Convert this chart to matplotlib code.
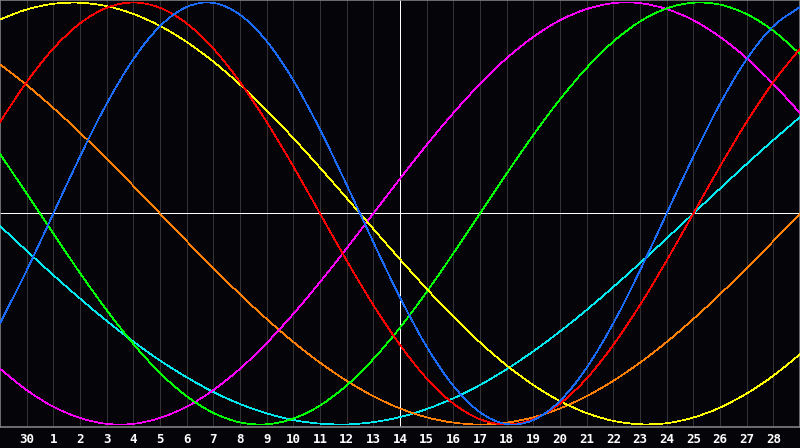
import matplotlib
matplotlib.use("Agg")
import matplotlib.pyplot as plt
from matplotlib.path import Path
from matplotlib.patches import PathPatch
import numpy as np

# Day positions (0..30) and tick labels (positions 1..29)
days = list(range(31))
tick_days = list(range(1, 30))
tick_labels = ["30"] + [str(d) for d in range(1, 29)]

# Cycle values read at each day gridline (-1..1)
physical = [-0.520, -0.270, 0.000, 0.270, 0.520, 0.731, 0.888, 0.979, 0.998, 0.942,
            0.817, 0.631, 0.398, 0.136, -0.136, -0.398, -0.631, -0.817, -0.942, -0.998,
            -0.979, -0.888, -0.731, -0.520, -0.270, 0.000, 0.270, 0.520, 0.731, 0.888, 0.979]
emotional = [0.434, 0.623, 0.782, 0.901, 0.975, 1.000, 0.975, 0.901, 0.782, 0.623,
             0.434, 0.223, 0.000, -0.223, -0.434, -0.623, -0.782, -0.901, -0.975, -1.000,
             -0.975, -0.901, -0.782, -0.623, -0.434, -0.223, 0.000, 0.223, 0.434, 0.623, 0.782]
intellectual = [0.282, 0.095, -0.095, -0.282, -0.458, -0.618, -0.756, -0.866, -0.945, -0.990,
                -0.999, -0.972, -0.910, -0.815, -0.690, -0.541, -0.372, -0.189, 0.000, 0.189,
                0.372, 0.541, 0.690, 0.815, 0.910, 0.972, 0.999, 0.990, 0.945, 0.866, 0.756]
intuitive = [-0.736, -0.837, -0.916, -0.969, -0.997, -0.997, -0.969, -0.916, -0.837, -0.736,
             -0.614, -0.476, -0.325, -0.165, 0.000, 0.165, 0.325, 0.476, 0.614, 0.736,
             0.837, 0.916, 0.969, 0.997, 0.997, 0.969, 0.916, 0.837, 0.736, 0.614, 0.476]
aesthetic = [0.920, 0.967, 0.994, 0.999, 0.983, 0.946, 0.889, 0.813, 0.720, 0.611,
             0.489, 0.357, 0.217, 0.073, -0.073, -0.217, -0.357, -0.489, -0.611, -0.720,
             -0.813, -0.889, -0.946, -0.983, -0.999, -0.994, -0.967, -0.920, -0.853, -0.769, -0.667]
awareness = [0.707, 0.609, 0.500, 0.383, 0.259, 0.131, 0.000, -0.131, -0.259, -0.383,
             -0.500, -0.609, -0.707, -0.793, -0.866, -0.924, -0.966, -0.991, -1.000, -0.991,
             -0.966, -0.924, -0.866, -0.793, -0.707, -0.609, -0.500, -0.383, -0.259, -0.131, 0.000]
spiritual = [-0.059, -0.177, -0.292, -0.403, -0.509, -0.607, -0.697, -0.776, -0.846, -0.903,
             -0.947, -0.979, -0.996, -1.000, -0.989, -0.965, -0.927, -0.876, -0.813, -0.738,
             -0.653, -0.559, -0.457, -0.348, -0.235, -0.118, 0.000, 0.118, 0.235, 0.348, 0.457]

series = [
    (spiritual, "#00e8f0"),
    (awareness, "#ff7f00"),
    (intuitive, "#ff00ff"),
    (intellectual, "#00ff00"),
    (aesthetic, "#ffff00"),
    (emotional, "#ff0000"),
    (physical, "#1a6cff"),
]

BG = "#050408"
PX = 0.72  # one pixel in points at 100 dpi

fig = plt.figure(figsize=(8.0, 4.48), dpi=100, facecolor=BG)
ax = fig.add_axes([0, 21 / 448, 1, 427 / 448])
ax.set_facecolor(BG)
ax.set_xlim(0, 30)
ax.set_ylim(-1.012, 1.012)

# grid
for d in tick_days:
    ax.axvline(d, color="#333333", lw=PX, antialiased=False, zorder=1)


def smooth_path(xs, ys):
    xs = np.asarray(xs, float)
    ys = np.asarray(ys, float)
    pts = np.column_stack([xs, ys])
    ext = np.vstack([2 * pts[0] - pts[1], pts, 2 * pts[-1] - pts[-2]])
    verts = [pts[0]]
    codes = [Path.MOVETO]
    for i in range(1, len(ext) - 2):
        p0, p1, p2, p3 = ext[i - 1], ext[i], ext[i + 1], ext[i + 2]
        c1 = p1 + (p2 - p0) / 6.0
        c2 = p2 - (p3 - p1) / 6.0
        verts += [c1, c2, p2]
        codes += [Path.CURVE4] * 3
    return Path(verts, codes)


for vals, col in series:
    patch = PathPatch(smooth_path(days, vals), facecolor="none", edgecolor=col,
                      lw=0.5, antialiased=False, zorder=3)
    ax.add_patch(patch)

ax.axhline(0, color="white", lw=PX, antialiased=False, zorder=2)
ax.axvline(15, color="white", lw=PX, antialiased=False, zorder=2)

for s in ax.spines.values():
    s.set_color("#808080")
    s.set_linewidth(1.2)

ax.set_xticks(tick_days)
ax.set_xticklabels(tick_labels)
ax.set_yticks([])
ax.tick_params(axis="x", length=0, pad=4.5, colors="white", labelsize=9)
for lab in ax.get_xticklabels():
    lab.set_fontweight("bold")
    lab.set_family("DejaVu Sans Mono")

fig.savefig("out.png", dpi=100, facecolor=BG)
